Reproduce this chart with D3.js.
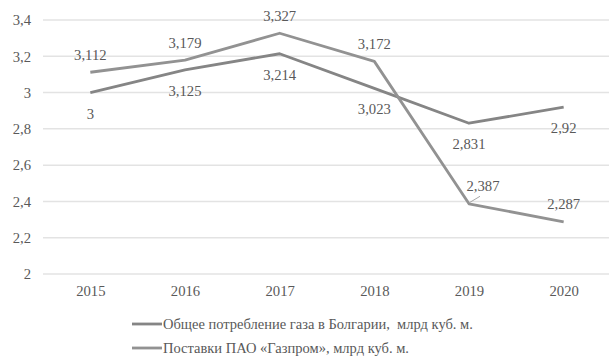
<!DOCTYPE html>
<html>
<head>
<meta charset="utf-8">
<script src="https://cdn.jsdelivr.net/npm/d3@7/dist/d3.min.js"></script>
<style>
  html, body { margin: 0; padding: 0; background: #fff; }
  svg { display: block; }
  svg text { font-family: "Liberation Serif", "Times New Roman", Tinos, "Noto Serif", "DejaVu Serif", FreeSerif, serif !important; fill: #595959; }
</style>
</head>
<body>
<svg id="chart" width="609" height="357"></svg>
<script>
// Years on the category axis
const years = ["2015", "2016", "2017", "2018", "2019", "2020"];
// Total gas consumption in Bulgaria, bcm
const consumption = [3, 3.125, 3.214, 3.023, 2.831, 2.92];
// Gazprom deliveries, bcm
const gazprom = [3.112, 3.179, 3.327, 3.172, 2.387, 2.287];
// Value axis ticks
const yTicks = [2, 2.2, 2.4, 2.6, 2.8, 3, 3.2, 3.4];
const seriesNames = [
  "Общее потребление газа в Болгарии,  млрд куб. м.",
  "Поставки ПАО «Газпром», млрд куб. м."
];

const fmt = v => String(v).replace(".", ",");

const svg = d3.select("#chart");
const x = d3.scalePoint().domain(years).range([43, 611]).padding(0.5);
const y = d3.scaleLinear().domain([2, 3.4]).range([274, 20]);

// Horizontal gridlines
svg.append("g").selectAll("line").data(yTicks).join("line")
  .attr("x1", 43).attr("x2", 609)
  .attr("y1", d => y(d)).attr("y2", d => y(d))
  .attr("stroke", "#e3e3e3").attr("stroke-width", 1.5);

// Value axis labels
const yAxis = svg.append("g").attr("transform", "translate(31,0)")
  .call(d3.axisLeft(y).tickValues(yTicks).tickFormat(fmt).tickSize(0).tickPadding(0));
yAxis.select(".domain").remove();
yAxis.attr("font-family", null).attr("font-size", null);
yAxis.selectAll("text").attr("font-size", 14.7).attr("fill", "#595959");

// Category axis labels
const xAxis = svg.append("g").attr("transform", "translate(0,286)")
  .call(d3.axisBottom(x).tickSize(0).tickPadding(0));
xAxis.select(".domain").remove();
xAxis.attr("font-family", null).attr("font-size", null);
xAxis.selectAll("text").attr("font-size", 14.7).attr("fill", "#595959");

const line = d3.line().x((d, i) => x(years[i])).y(d => y(d));
const colors = ["#858585", "#929292"];

svg.append("path").datum(consumption).attr("d", line)
  .attr("fill", "none").attr("stroke", colors[0]).attr("stroke-width", 2.8)
  .attr("stroke-linejoin", "round");
svg.append("path").datum(gazprom).attr("d", line)
  .attr("fill", "none").attr("stroke", colors[1]).attr("stroke-width", 2.8)
  .attr("stroke-linejoin", "round");

// Data labels: consumption below its line, deliveries above
svg.append("g").selectAll("text").data(consumption).join("text")
  .attr("x", (d, i) => x(years[i]))
  .attr("y", d => y(d) + 21)
  .attr("text-anchor", "middle").attr("dominant-baseline", "central")
  .attr("font-size", 14.7).text(fmt);

const shifted = "2019"; // label pulled aside with a leader line
svg.append("g").selectAll("text").data(gazprom).join("text")
  .attr("x", (d, i) => x(years[i]) + (years[i] === shifted ? 14 : 0))
  .attr("y", d => y(d) - 17.5)
  .attr("text-anchor", "middle").attr("dominant-baseline", "central")
  .attr("font-size", 14.7).text(fmt);

const si = years.indexOf(shifted);
svg.append("line")
  .attr("x1", x(shifted) + 1).attr("y1", y(gazprom[si]) - 1.5)
  .attr("x2", x(shifted) + 11).attr("y2", y(gazprom[si]) - 7.5)
  .attr("stroke", "#a6a6a6").attr("stroke-width", 1);

// Legend
const legend = svg.append("g").selectAll("g").data(seriesNames).join("g")
  .attr("transform", (d, i) => `translate(132,${324 + i * 24})`);
legend.append("line").attr("x1", 0).attr("x2", 30).attr("y1", 0).attr("y2", 0)
  .attr("stroke", (d, i) => colors[i]).attr("stroke-width", 2.8);
legend.append("text").attr("x", 31).attr("y", 0)
  .attr("dominant-baseline", "central").attr("font-size", 14.5)
  .attr("xml:space", "preserve").text(d => d);
</script>
</body>
</html>
